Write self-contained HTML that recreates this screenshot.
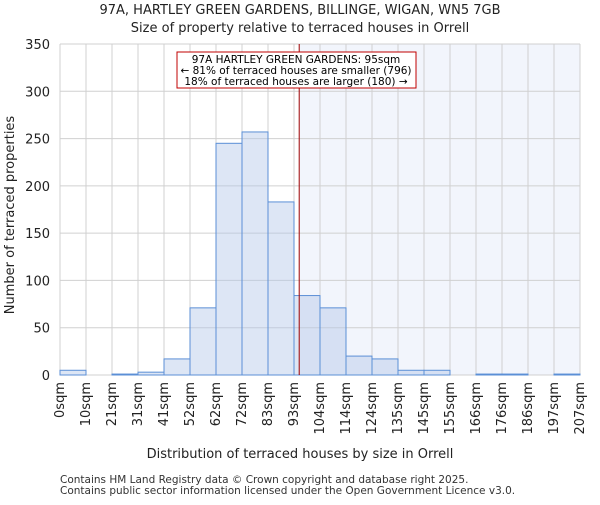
<!DOCTYPE html>
<html><head><meta charset="utf-8"><style>
body{margin:0;background:#fff;font-family:"Liberation Sans","DejaVu Sans",sans-serif}
</style></head><body>
<svg width="600" height="500" xmlns="http://www.w3.org/2000/svg" font-family="DejaVu Sans, Liberation Sans, sans-serif">
<g id="g"></g>
</svg>
<script>
const binLabels=["0sqm","10sqm","21sqm","31sqm","41sqm","52sqm","62sqm","72sqm","83sqm","93sqm","104sqm","114sqm","124sqm","135sqm","145sqm","155sqm","166sqm","176sqm","186sqm","197sqm","207sqm"];
const counts=[5,0,1,3,17,71,245,257,183,84,71,20,17,5,5,0,1,1,0,1];
const yTicks=[0,50,100,150,200,250,300,350];
const propertyBinPos=[9.2];
const NS="http://www.w3.org/2000/svg";
const g=document.getElementById('g');
const X0=60,X1=580,Y0=375,Y1=44,YMAX=350;
const bw=(X1-X0)/counts.length;
const xs=i=>X0+i*bw;
const ys=v=>Y0-(v/YMAX)*(Y0-Y1);
function el(t,a,txt){const e=document.createElementNS(NS,t);for(const k in a)e.setAttribute(k,a[k]);if(txt!=null)e.textContent=txt;g.appendChild(e);return e;}
const lx=xs(propertyBinPos[0]);
let e;
e=el('rect',{x:lx,y:Y1,width:X1-lx,height:Y0-Y1,fill:'#f2f5fc'});


for(let i=0;i<=counts.length;i++){e=el('line',{x1:xs(i),x2:xs(i),y1:Y1,y2:Y0,stroke:'#d0d0d0','stroke-width':1});

}
yTicks.forEach(t=>{e=el('line',{x1:X0,x2:X1,y1:ys(t),y2:ys(t),stroke:'#d0d0d0','stroke-width':1});


e=el('text',{x:X0-10,y:ys(t)+5,'text-anchor':'end','font-size':13,fill:'#222'},t);

});
counts.forEach((c,i)=>{e=el('rect',{x:xs(i),y:ys(c),width:bw,height:Y0-ys(c),fill:'rgba(180,200,232,0.45)',stroke:'#5b8fd6','stroke-width':1});

});
binLabels.forEach((l,i)=>{const x=xs(i)+4;e=el('text',{x:x,y:382,transform:`rotate(-90 ${x} 382)`,'text-anchor':'end','font-size':13,fill:'#222'},l);

});
e=el('line',{x1:lx,x2:lx,y1:Y1,y2:Y0,stroke:'#a00000','stroke-width':1});


e=el('rect',{x:177,y:52,width:239,height:36,fill:'#fff',stroke:'#c00000','stroke-width':1});


[["97A HARTLEY GREEN GARDENS: 95sqm",63],["← 81% of terraced houses are smaller (796)",74],["18% of terraced houses are larger (180) →",85]].forEach(([t,y])=>{e=el('text',{x:296,y:y,'text-anchor':'middle','font-size':10.5,fill:'#000'},t);

});
e=el('text',{x:300,y:14,'text-anchor':'middle','font-size':13,fill:'#222'},"97A, HARTLEY GREEN GARDENS, BILLINGE, WIGAN, WN5 7GB");


e=el('text',{x:300,y:32,'text-anchor':'middle','font-size':13,fill:'#222'},"Size of property relative to terraced houses in Orrell");


e=el('text',{x:300,y:458,'text-anchor':'middle','font-size':13,fill:'#222'},"Distribution of terraced houses by size in Orrell");


e=el('text',{x:14,y:215,transform:'rotate(-90 14 215)','text-anchor':'middle','font-size':13,fill:'#222'},"Number of terraced properties");


e=el('text',{x:60,y:483,'font-size':10.5,fill:'#333'},"Contains HM Land Registry data © Crown copyright and database right 2025.");


e=el('text',{x:60,y:494,'font-size':10.5,fill:'#333'},"Contains public sector information licensed under the Open Government Licence v3.0.");


</script>
</body></html>
